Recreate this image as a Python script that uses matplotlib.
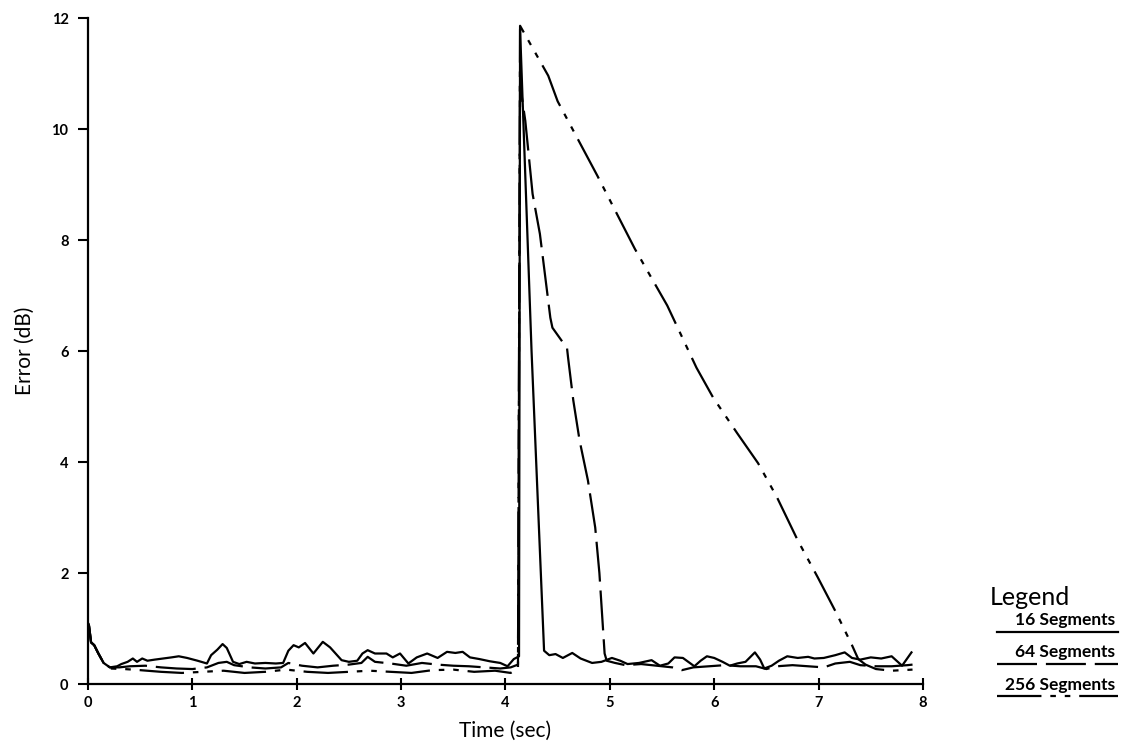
import matplotlib
matplotlib.use("Agg")
import matplotlib.pyplot as plt
from matplotlib.lines import Line2D

plt.rcParams['font.family'] = ['Lato', 'DejaVu Sans']

# Error trace for each segment count: (time in s, error in dB)
t_16 = [0.00, 0.01, 0.03, 0.06, 0.10, 0.15, 0.21, 0.28, 0.32, 0.38, 0.43, 0.47, 0.52, 0.57,
        0.64, 0.72, 0.80, 0.87, 0.95, 1.05, 1.14, 1.18, 1.24, 1.29, 1.33, 1.39, 1.45, 1.52,
        1.60, 1.70, 1.80, 1.87, 1.92, 1.97, 2.02, 2.08, 2.16, 2.25, 2.32, 2.43, 2.50, 2.58,
        2.63, 2.68, 2.75, 2.86, 2.92, 2.99, 3.07, 3.15, 3.25, 3.35, 3.44, 3.52, 3.59, 3.66,
        3.75, 3.85, 3.95, 4.02, 4.08, 4.13, 4.14, 4.25, 4.31, 4.37, 4.42, 4.48, 4.55, 4.64,
        4.72, 4.83, 4.92, 5.02, 5.10, 5.17, 5.28, 5.40, 5.48, 5.56, 5.62, 5.70, 5.81, 5.87,
        5.93, 6.00, 6.08, 6.15, 6.22, 6.30, 6.39, 6.44, 6.48, 6.55, 6.62, 6.70, 6.80, 6.90,
        6.96, 7.05, 7.16, 7.25, 7.32, 7.40, 7.50, 7.60, 7.70, 7.80, 7.89]
e_16 = [1.10, 1.05, 0.75, 0.70, 0.55, 0.38, 0.30, 0.32, 0.36, 0.40, 0.46, 0.40, 0.46, 0.42,
        0.44, 0.46, 0.48, 0.50, 0.47, 0.42, 0.37, 0.52, 0.62, 0.72, 0.65, 0.40, 0.36, 0.40,
        0.37, 0.38, 0.37, 0.38, 0.60, 0.70, 0.66, 0.74, 0.55, 0.76, 0.66, 0.43, 0.40, 0.42,
        0.55, 0.61, 0.55, 0.55, 0.48, 0.55, 0.37, 0.48, 0.55, 0.47, 0.58, 0.56, 0.58, 0.48,
        0.45, 0.41, 0.38, 0.32, 0.45, 0.50, 11.80, 6.00, 3.30, 0.60, 0.52, 0.54, 0.47, 0.56,
        0.46, 0.38, 0.40, 0.47, 0.42, 0.36, 0.38, 0.43, 0.33, 0.37, 0.48, 0.47, 0.32, 0.42,
        0.50, 0.47, 0.40, 0.33, 0.37, 0.40, 0.57, 0.44, 0.28, 0.33, 0.42, 0.50, 0.47, 0.49,
        0.46, 0.47, 0.52, 0.57, 0.47, 0.44, 0.48, 0.46, 0.50, 0.33, 0.57]

t_64 = [0.00, 0.01, 0.03, 0.06, 0.10, 0.15, 0.21, 0.30, 0.40, 0.55, 0.70, 0.85, 1.00, 1.14,
        1.25, 1.33, 1.40, 1.55, 1.70, 1.85, 1.92, 2.05, 2.20, 2.35, 2.50, 2.62, 2.68, 2.75,
        2.90, 3.05, 3.20, 3.35, 3.50, 3.65, 3.80, 3.95, 4.05, 4.12, 4.14, 4.19, 4.26, 4.33,
        4.43, 4.45, 4.59, 4.60, 4.65, 4.71, 4.79, 4.86, 4.90, 4.95, 4.97, 5.05, 5.15, 5.30,
        5.45, 5.60, 5.69, 5.80, 5.95, 6.10, 6.25, 6.40, 6.50, 6.60, 6.75, 6.90, 7.05, 7.16,
        7.30, 7.40, 7.55, 7.70, 7.85, 7.90]
e_64 = [1.10, 1.05, 0.75, 0.70, 0.55, 0.38, 0.30, 0.30, 0.32, 0.33, 0.30, 0.28, 0.27, 0.30,
        0.38, 0.40, 0.34, 0.30, 0.28, 0.30, 0.38, 0.33, 0.30, 0.33, 0.35, 0.38, 0.49, 0.40,
        0.37, 0.33, 0.38, 0.35, 0.33, 0.32, 0.30, 0.28, 0.30, 0.35, 10.80, 10.15, 8.83, 8.11,
        6.60, 6.42, 6.05, 5.88, 5.11, 4.39, 3.67, 2.82, 2.00, 0.55, 0.42, 0.38, 0.34, 0.36,
        0.33, 0.30, 0.25, 0.30, 0.32, 0.34, 0.32, 0.32, 0.27, 0.32, 0.34, 0.32, 0.30, 0.37,
        0.40, 0.34, 0.32, 0.32, 0.34, 0.35]

t_256 = [0.00, 0.01, 0.03, 0.06, 0.10, 0.15, 0.21, 0.35, 0.50, 0.70, 0.90, 1.10, 1.30, 1.50,
         1.70, 1.90, 2.10, 2.30, 2.50, 2.70, 2.90, 3.10, 3.30, 3.50, 3.70, 3.90, 4.05, 4.12,
         4.14, 4.41, 4.50, 4.88, 5.24, 5.55, 5.83, 5.99, 6.22, 6.42, 6.60, 6.80, 6.99, 7.17,
         7.32, 7.38, 7.45, 7.55, 7.70, 7.90]
e_256 = [1.10, 1.05, 0.75, 0.70, 0.55, 0.38, 0.28, 0.27, 0.25, 0.22, 0.20, 0.22, 0.24, 0.20,
         0.22, 0.26, 0.22, 0.20, 0.22, 0.24, 0.22, 0.20, 0.25, 0.26, 0.22, 0.24, 0.20, 0.28,
         11.86, 10.96, 10.50, 9.16, 7.84, 6.82, 5.70, 5.16, 4.52, 3.98, 3.37, 2.59, 1.93, 1.28,
         0.70, 0.45, 0.35, 0.27, 0.24, 0.26]

labels = ["16 Segments", "64 Segments", "256 Segments"]
x_ticks = [0, 1, 2, 3, 4, 5, 6, 7, 8]
y_ticks = [0, 2, 4, 6, 8, 10, 12]

styles = [
    dict(linestyle='-'),
    dict(linestyle=(0, (18, 4))),
    dict(linestyle=(0, (20, 4, 2.5, 4, 2.5, 4))),
]

fig = plt.figure(figsize=(11.29, 7.44), dpi=100)
ax = fig.add_axes([0.0779, 0.0806, 0.7396, 0.8952])

lw = 1.6
for (t, e), st in zip([(t_16, e_16), (t_64, e_64), (t_256, e_256)], styles):
    ax.plot(t, e, color='black', lw=lw, solid_joinstyle='round', **st)

ax.set_xlim(0, 8)
ax.set_ylim(0, 12)
ax.set_xticks(x_ticks)
ax.set_yticks(y_ticks)
tick_font = dict(fontweight='bold', fontsize=10.5)
ax.set_xticklabels([str(v) for v in x_ticks], **tick_font)
ax.set_yticklabels([str(v) for v in y_ticks], **tick_font)
ax.tick_params(axis='x', direction='inout', length=9, width=1.5, pad=4)
ax.tick_params(axis='y', direction='out', length=7, width=1.5, pad=7)
for side in ('top', 'right'):
    ax.spines[side].set_visible(False)
for side in ('left', 'bottom'):
    ax.spines[side].set_linewidth(1.6)

ax.set_xlabel("Time (sec)", fontsize=15, labelpad=8)
ax.set_ylabel("Error (dB)", fontsize=15, labelpad=12)

# Legend block: title plus each label underlined in its series style
fig.text(0.877, 0.197, "Legend", fontsize=18, ha='left', va='center')
label_y = [0.166, 0.123, 0.079]
for lab, yy, st in zip(labels, label_y, styles):
    fig.text(0.988, yy, lab, fontsize=12.5, fontweight='bold', ha='right', va='center')
    fig.add_artist(Line2D([0.883, 0.990], [yy - 0.0150, yy - 0.0150], transform=fig.transFigure,
                          color='black', lw=lw, **st))

fig.savefig("out.png", dpi=100)
